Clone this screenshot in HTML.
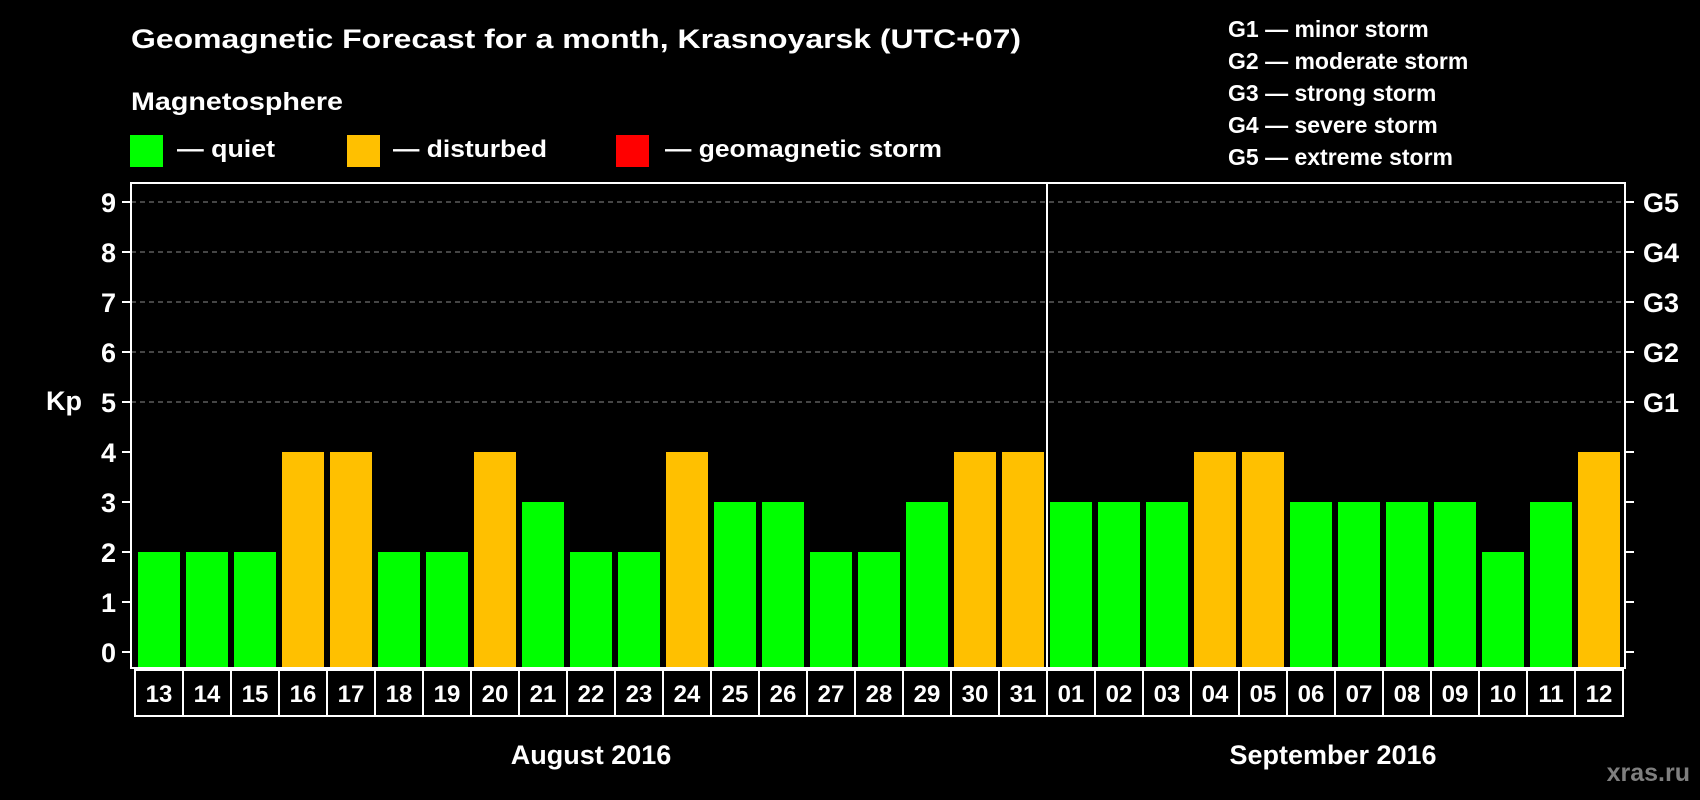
<!DOCTYPE html>
<html><head><meta charset="utf-8"><style>
html,body{margin:0;padding:0;background:#000;}
svg{display:block;font-family:"Liberation Sans",Arial,sans-serif;font-weight:bold;}
</style></head><body>
<svg id="chart" width="1700" height="800" viewBox="0 0 1700 800" xmlns="http://www.w3.org/2000/svg">
<rect x="0" y="0" width="1700" height="800" fill="#000"/>
<text x="131" y="48" font-size="27" fill="#fff" textLength="890" lengthAdjust="spacingAndGlyphs">Geomagnetic Forecast for a month, Krasnoyarsk (UTC+07)</text>
<text x="131" y="110" font-size="25" fill="#fff" textLength="212" lengthAdjust="spacingAndGlyphs">Magnetosphere</text>
<g>
<rect x="130" y="135" width="33" height="32" fill="#00ff00"/>
<text x="177" y="157" font-size="24" fill="#fff" textLength="98" lengthAdjust="spacingAndGlyphs">— quiet</text>
</g>
<g>
<rect x="347" y="135" width="33" height="32" fill="#ffc000"/>
<text x="393" y="157" font-size="24" fill="#fff" textLength="154" lengthAdjust="spacingAndGlyphs">— disturbed</text>
</g>
<g>
<rect x="616" y="135" width="33" height="32" fill="#ff0000"/>
<text x="665" y="157" font-size="24" fill="#fff" textLength="277" lengthAdjust="spacingAndGlyphs">— geomagnetic storm</text>
</g>
<g font-size="23" fill="#fff">
<text x="1228" y="37">G1 — minor storm</text>
<text x="1228" y="69">G2 — moderate storm</text>
<text x="1228" y="101">G3 — strong storm</text>
<text x="1228" y="133">G4 — severe storm</text>
<text x="1228" y="165">G5 — extreme storm</text>
</g>
<g id="grid"></g>
<g id="bars"></g>
<g id="axes"></g>
<g id="xlabels"></g>
<text x="64" y="410" font-size="27" fill="#fff" text-anchor="middle">Kp</text>
<text x="591" y="764" font-size="27" fill="#fff" text-anchor="middle">August 2016</text>
<text x="1333" y="764" font-size="27" fill="#fff" text-anchor="middle">September 2016</text>
<text x="1690" y="781" font-size="25" fill="#7f7f7f" text-anchor="end">xras.ru</text>
</svg>
<script>
const days = ["13","14","15","16","17","18","19","20","21","22","23","24","25","26","27","28","29","30","31","01","02","03","04","05","06","07","08","09","10","11","12"];
const kpValues = [2,2,2,4,4,2,2,4,3,2,2,4,3,3,2,2,3,4,4,3,3,3,4,4,3,3,3,3,2,3,4];
const yTicks = [0,1,2,3,4,5,6,7,8,9];
const stormLabels = ["","","","","","G1","G2","G3","G4","G5"];
const monthBreakIndex = 19;

const NS = "http://www.w3.org/2000/svg";
const frameL = 131, frameR = 1625, frameT = 183, frameB = 668;
const barStart = 138, pitch = 48, barW = 42;
function yScale(v){ return 652 - v * 50; }
function xScale(i){ return barStart + i * pitch; }
function mk(tag, attrs, parent){ const e = document.createElementNS(NS, tag); for (const k in attrs) e.setAttribute(k, attrs[k]); parent.appendChild(e); return e; }

const grid = document.getElementById('grid');
const axes = document.getElementById('axes');
const bars = document.getElementById('bars');
const xl = document.getElementById('xlabels');

yTicks.forEach((t, i) => {
  const y = yScale(t);
  if (t >= 5) {
    const g = mk('line', {x1: frameL, x2: frameR, y1: y, y2: y, stroke: '#8a8a8a', 'stroke-width': 1, 'stroke-dasharray': '5,4'}, grid);
    
    
  }
  const lt = mk('line', {x1: 122, x2: frameL, y1: y, y2: y, stroke: '#fff', 'stroke-width': 2}, axes);
  
  
  const rt = mk('line', {x1: frameR, x2: frameR + 9, y1: y, y2: y, stroke: '#fff', 'stroke-width': 2}, axes);
  
  
  const lab = mk('text', {x: 116, y: y + 10, 'font-size': 27, fill: '#fff', 'text-anchor': 'end'}, axes);
  lab.textContent = String(t);
  
  
  if (stormLabels[i]) {
    const g = mk('text', {x: 1643, y: y + 10, 'font-size': 27, fill: '#fff'}, axes);
    g.textContent = stormLabels[i];
    
    
  }
});

kpValues.forEach((v, i) => {
  const x = xScale(i), y = yScale(v);
  const r = mk('rect', {x: x, y: y, width: barW, height: frameB - y, fill: v >= 5 ? '#ff0000' : (v >= 4 ? '#ffc000' : '#00ff00')}, bars);
  
  
  const b = mk('rect', {x: x - 3, y: 670, width: pitch, height: 46, fill: 'none', stroke: '#fff', 'stroke-width': 2}, xl);
  
  
  const t = mk('text', {x: x + barW / 2, y: 702, 'font-size': 24, fill: '#fff', 'text-anchor': 'middle'}, xl);
  t.textContent = days[i];
  
  
});

const fr = mk('rect', {x: frameL, y: frameT, width: frameR - frameL, height: frameB - frameT, fill: 'none', stroke: '#fff', 'stroke-width': 2}, axes);


const dx = xScale(monthBreakIndex) - 3;
const dv = mk('line', {x1: dx, x2: dx, y1: frameT, y2: frameB, stroke: '#fff', 'stroke-width': 2}, axes);


</script>
</body></html>
